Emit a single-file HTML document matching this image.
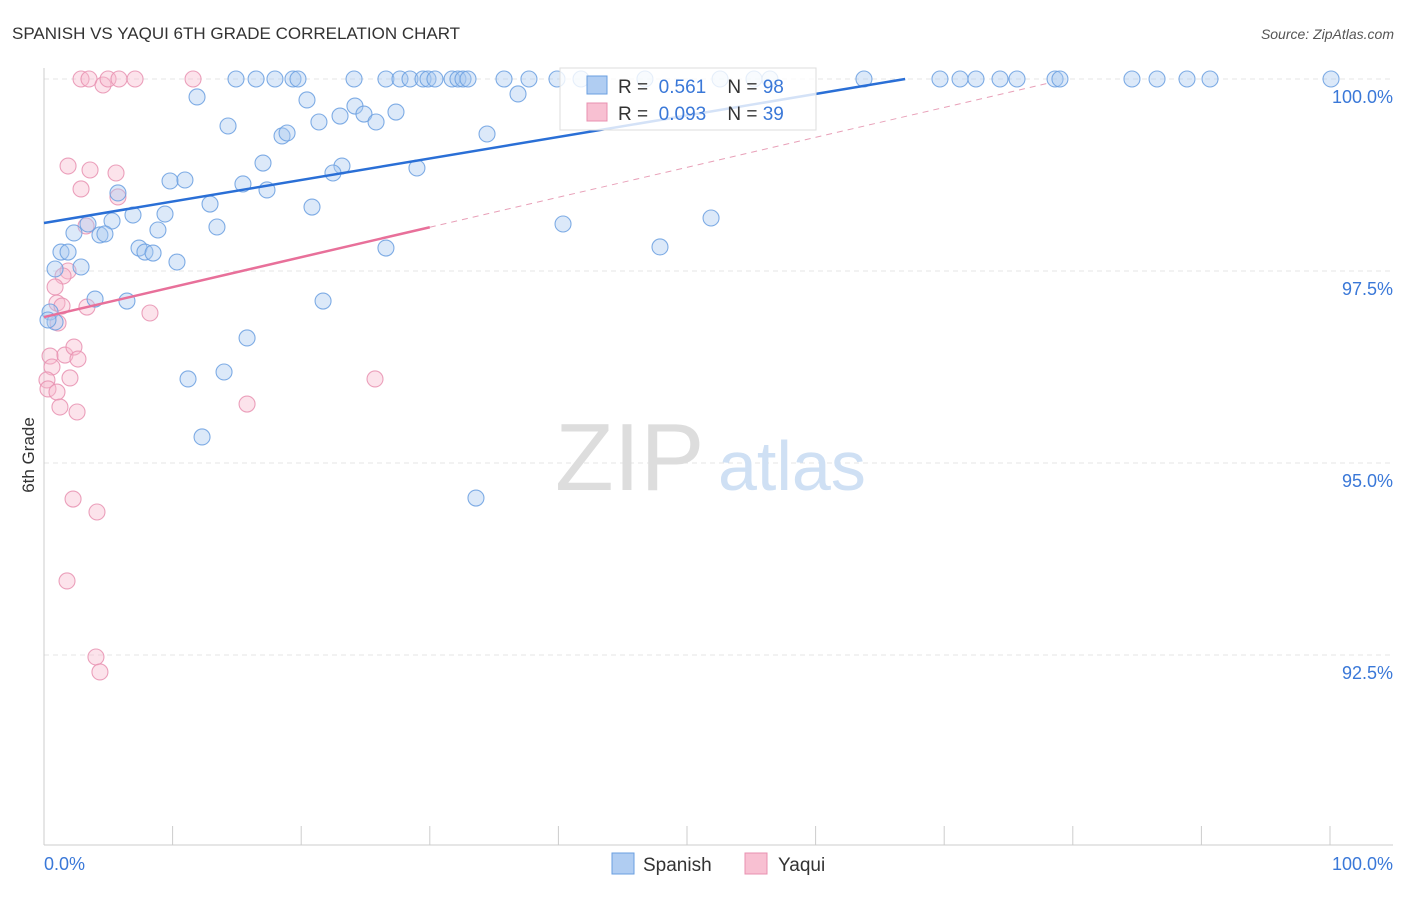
<!DOCTYPE html>
<html><head><meta charset="utf-8">
<style>
body{margin:0;background:#fff;font-family:"Liberation Sans",sans-serif;}
svg text{font-family:"Liberation Sans",sans-serif;}
</style></head>
<body>
<svg id="chart" width="1406" height="892" viewBox="0 0 1406 892">
<text x="12" y="39" font-size="17" fill="#333">SPANISH VS YAQUI 6TH GRADE CORRELATION CHART</text>
<text x="1394" y="39" font-size="14" fill="#555" font-style="italic" text-anchor="end">Source: ZipAtlas.com</text>
<text x="34" y="455" font-size="17" fill="#333" transform="rotate(-90 34 455)" text-anchor="middle">6th Grade</text>
<g id="grid"></g>
<g id="axes"></g>
<text x="555" y="490" font-size="96" fill="#ddd" font-family="Liberation Serif">ZIP</text>
<text x="718" y="490" font-size="70" fill="#cfe0f4">atlas</text>
<g id="points"></g>
<g id="trends"></g>
<g>
<rect x="560" y="68" width="256" height="62" fill="#fff" fill-opacity="0.8" stroke="#ddd"/>
<rect x="587" y="76" width="20" height="18" fill="#b0cdf2" stroke="#6a9fe0"/>
<text x="618" y="93" font-size="19" fill="#333" xml:space="preserve">R =  <tspan fill="#3a78d8">0.561</tspan>    N = <tspan fill="#3a78d8">98</tspan></text>
<rect x="587" y="103" width="20" height="18" fill="#f8c0d2" stroke="#e890b0"/>
<text x="618" y="120" font-size="19" fill="#333" xml:space="preserve">R =  <tspan fill="#3a78d8">0.093</tspan>    N = <tspan fill="#3a78d8">39</tspan></text>
</g>
<g>
<rect x="612" y="853" width="22" height="21" fill="#b0cdf2" stroke="#6a9fe0"/>
<text x="643" y="871" font-size="19" fill="#333">Spanish</text>
<rect x="745" y="853" width="22" height="21" fill="#f8c0d2" stroke="#e890b0"/>
<text x="778" y="871" font-size="19" fill="#333">Yaqui</text>
</g>
</svg>
<script>
const yTicks=[100,97.5,95,92.5];
const yTickLabels=["100.0%","97.5%","95.0%","92.5%"];
const xTickLabels=["0.0%","100.0%"];
const spanishPx=[[236,79],[256,79],[275,79],[293,79],[298,79],[354,79],[386,79],[400,79],[410,79],[423,79],[428,79],[435,79],[452,79],[458,79],[463,79],[468,79],[504,79],[529,79],[557,79],[581,79],[645,79],[720,79],[754,79],[770,79],[864,79],[940,79],[960,79],[976,79],[1000,79],[1017,79],[1055,79],[1060,79],[1132,79],[1157,79],[1187,79],[1210,79],[1331,79],[197,97],[307,100],[518,94],[355,106],[364,114],[340,116],[376,122],[396,112],[319,122],[228,126],[282,136],[287,133],[487,134],[263,163],[342,166],[333,173],[417,168],[170,181],[185,180],[243,184],[267,190],[118,193],[210,204],[312,207],[133,215],[165,214],[112,221],[88,224],[74,233],[100,235],[105,234],[158,230],[217,227],[563,224],[711,218],[61,252],[68,252],[139,248],[145,252],[153,253],[386,248],[660,247],[177,262],[81,267],[55,269],[95,299],[127,301],[323,301],[50,312],[55,322],[247,338],[188,379],[224,372],[202,437],[476,498],[48,320]];
const yaquiPx=[[81,79],[89,79],[103,85],[108,79],[119,79],[135,79],[193,79],[68,166],[90,170],[116,173],[81,189],[118,197],[86,226],[68,271],[63,276],[55,287],[57,303],[62,306],[87,307],[150,313],[58,323],[50,356],[65,355],[74,347],[78,359],[52,367],[70,378],[47,380],[48,389],[57,392],[60,407],[77,412],[247,404],[375,379],[73,499],[97,512],[67,581],[96,657],[100,672]];
const spanishX=spanishPx.map(p=>+((p[0]-44)/12.86).toFixed(2));
const spanishY=spanishPx.map(p=>+(100-(p[1]-79)/76.8).toFixed(3));
const yaquiX=yaquiPx.map(p=>+((p[0]-44)/12.86).toFixed(2));
const yaquiY=yaquiPx.map(p=>+(100-(p[1]-79)/76.8).toFixed(3));
const spanishTrend=[98.125,0.028];
const yaquiTrend=[96.9,0.039];

const xS=v=>44+v*12.86;
const yS=v=>79+(100-v)*76.8;
const NS="http://www.w3.org/2000/svg";
function mk(tag,attrs,parent){const e=document.createElementNS(NS,tag);for(const k in attrs)e.setAttribute(k,attrs[k]);parent.appendChild(e);return e;}
const grid=document.getElementById('grid'),axes=document.getElementById('axes'),pts=document.getElementById('points'),tr=document.getElementById('trends');
yTicks.forEach((t,i)=>{
 const l=mk('line',{x1:44,x2:1393,y1:yS(t),y2:yS(t),stroke:'#e4e4e4','stroke-dasharray':'5,4'},grid);
 
 
 const tx=mk('text',{x:1393,y:yS(t)+24,'font-size':18,fill:'#3a78d8','text-anchor':'end'},axes);
 tx.textContent=yTickLabels[i];
 
 
});
mk('line',{x1:44,x2:44,y1:68,y2:845,stroke:'#ccc'},axes);
mk('line',{x1:44,x2:1393,y1:845,y2:845,stroke:'#ccc'},axes);
for(let i=0;i<=10;i++){const t=mk('line',{x1:xS(i*10),x2:xS(i*10),y1:826,y2:845,stroke:'#ccc'},axes);
 
 }
[[0,'start',44],[1,'end',1393]].forEach(([i,a,x])=>{const t=mk('text',{x:x,y:870,'font-size':18,fill:'#3a78d8','text-anchor':a},axes);t.textContent=xTickLabels[i];
 
 });
function dots(X,Y,fill,stroke,name){X.forEach((x,i)=>{const c=mk('circle',{cx:xS(x),cy:yS(Y[i]),r:8,fill:fill,'fill-opacity':0.4,stroke:stroke,'stroke-width':1.1,'stroke-opacity':0.85},pts);
 
 });}
dots(yaquiX,yaquiY,'#f8b8cc','#e890b0','yaqui-point');
dots(spanishX,spanishY,'#a8c8f0','#6a9fe0','spanish-point');
const sx1=(100-spanishTrend[0])/spanishTrend[1];
const sl=mk('line',{x1:xS(0),y1:yS(spanishTrend[0]),x2:xS(sx1),y2:yS(100),stroke:'#2a6fd6','stroke-width':2.5},tr);


const yl=mk('line',{x1:xS(0),y1:yS(yaquiTrend[0]),x2:xS(30),y2:yS(yaquiTrend[0]+30*yaquiTrend[1]),stroke:'#e8709a','stroke-width':2.5},tr);


const yd=mk('line',{x1:xS(30),y1:yS(yaquiTrend[0]+30*yaquiTrend[1]),x2:xS(78.3),y2:yS(yaquiTrend[0]+78.3*yaquiTrend[1]),stroke:'#e8a0b8','stroke-width':1,'stroke-dasharray':'6,5'},tr);


</script>
</body></html>
